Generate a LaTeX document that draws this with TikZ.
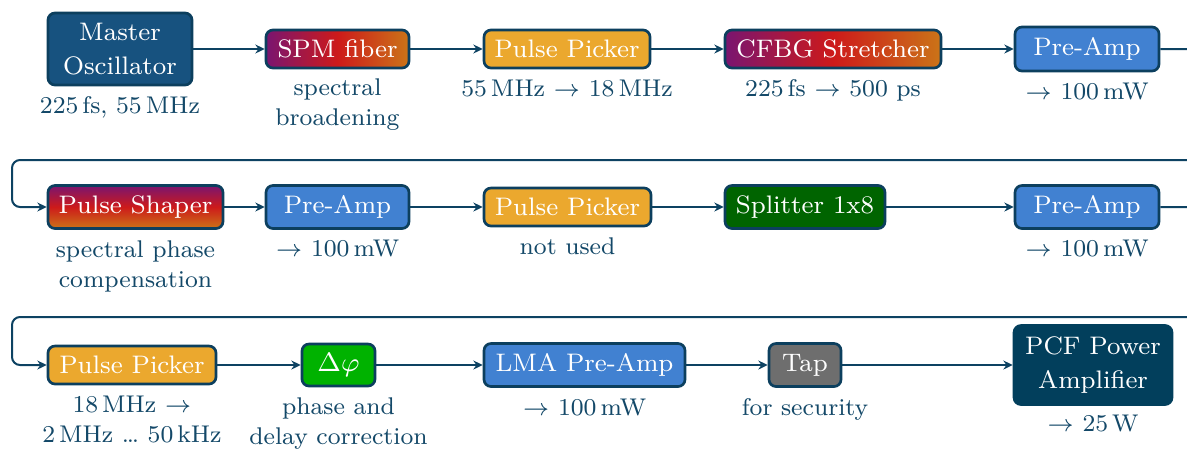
\documentclass[tikz,border=0pt]{standalone}
\usepackage{fontspec}
\usetikzlibrary{arrows.meta}
\newfontfamily\lblfam{lmroman8-regular.otf}
\definecolor{lncol}{HTML}{0D4262}
\definecolor{lblcol}{HTML}{134868}
\definecolor{bordcol}{HTML}{0C3F5E}
\definecolor{mocol}{HTML}{17527F}
\definecolor{ampcol}{HTML}{4181D1}
\definecolor{ppcol}{HTML}{EBA82E}
\definecolor{splcol}{HTML}{006400}
\definecolor{phicol}{HTML}{00B200}
\definecolor{tapcol}{HTML}{6E6E6E}
\definecolor{pcfcol}{HTML}{023F5C}
\definecolor{gpurple}{HTML}{7A1570}
\definecolor{gred}{HTML}{CD1A1A}
\definecolor{gorange}{HTML}{CB7418}
\newcommand\diagfont{\fontsize{7.6}{10.2}\selectfont}
\newcommand\lblfont{\lblfam\fontsize{7.25}{9}\selectfont}
\tikzset{
  box/.style={draw=bordcol, line width=0.8pt, rounded corners=2.1pt, text=white,
    inner sep=0pt, align=center, font=\diagfont},
  hgrad/.style={left color=gpurple, right color=gorange, middle color=gred},
  vgrad/.style={top color=gpurple, bottom color=gorange, middle color=gred},
  lbl/.style={text=lblcol, align=center, inner sep=0pt, font=\lblfont},
  conn/.style={draw=lncol, line width=0.6pt, -{Stealth[length=2.8pt,width=2.7pt]}},
  ret/.style={conn, rounded corners=2.4pt},
}
\begin{document}
\begin{tikzpicture}[x=0.3pt,y=-0.3pt]
\useasboundingbox (0,0) rectangle (1187,448);
\clip (0,0) rectangle (1187,448);
% row 1
\node[box, fill=mocol, minimum width=43.2pt, minimum height=21.6pt] (mo) at (120,49) {Master\\Oscillator};
\node[box, hgrad, minimum width=42.9pt, minimum height=11.4pt] (spm) at (337.5,49) {SPM fiber};
\node[box, fill=ppcol, minimum width=49.8pt, minimum height=11.4pt] (pp1) at (567,49) {Pulse Picker};
\node[box, hgrad, minimum width=64.8pt, minimum height=11.4pt] (cfbg) at (833,49) {CFBG Stretcher};
\node[box, fill=ampcol, minimum width=43.2pt, minimum height=13.2pt] (pa1) at (1087,49) {Pre-Amp};
% row 2
\node[box, vgrad, minimum width=52.5pt, minimum height=12.9pt] (ps) at (135.5,207) {Pulse Shaper};
\node[box, fill=ampcol, minimum width=42.9pt, minimum height=12.9pt] (pa2) at (337.5,207) {Pre-Amp};
\node[box, fill=ppcol, minimum width=50.1pt, minimum height=11.4pt] (pp2) at (567.5,207) {Pulse Picker};
\node[box, fill=splcol, minimum width=48pt, minimum height=12.9pt] (split) at (805,207) {Splitter 1x8};
\node[box, fill=ampcol, minimum width=43.2pt, minimum height=12.9pt] (pa3) at (1087,207) {Pre-Amp};
% row 3
\node[box, fill=ppcol, minimum width=50.4pt, minimum height=11.4pt] (pp3) at (132,365) {Pulse Picker};
\node[box, fill=phicol, minimum width=21.9pt, minimum height=12.6pt] (dphi) at (338.5,365) {$\Delta\varphi$};
\node[box, fill=ampcol, minimum width=60.3pt, minimum height=12.9pt] (lma) at (584.5,365) {LMA Pre-Amp};
\node[box, fill=tapcol, minimum width=21.6pt, minimum height=12.9pt] (tap) at (805,365) {Tap};
\node[box, draw=pcfcol, fill=pcfcol, minimum width=47.4pt, minimum height=23.7pt] (pcf) at (1093,365) {PCF Power\\Amplifier};
% labels
\node[lbl, anchor=base] (l1) at (mo.south |- 0,113) {225\,fs, 55\,MHz};
\node[lbl, anchor=north] (l2) at (spm.south |- 0,78.4) {spectral\\broadening};
\node[lbl, anchor=base] (l3) at (pp1.south |- 0,96.7) {55\,MHz $\rightarrow$ 18\,MHz};
\node[lbl, anchor=base] (l4) at (cfbg.south |- 0,96.7) {225\,fs $\rightarrow$ 500 ps};
\node[lbl, anchor=base] (l5) at (pa1.south |- 0,99.3) {$\rightarrow$ 100\,mW};
\node[lbl, anchor=north] (l6) at (ps.south |- 0,239.7) {spectral phase\\compensation};
\node[lbl, anchor=base] (l7) at (pa2.south |- 0,256.7) {$\rightarrow$ 100\,mW};
\node[lbl, anchor=base] (l8) at (pp2.south |- 0,254.3) {not used};
\node[lbl, anchor=base] (l9) at (pa3.south |- 0,256.7) {$\rightarrow$ 100\,mW};
\node[lbl, anchor=north] (l10) at (pp3.south |- 0,395.4) {18\,MHz $\rightarrow$\\2\,MHz \dots\ 50\,kHz};
\node[lbl, anchor=north] (l11) at (dphi.south |- 0,397.4) {phase and\\delay correction};
\node[lbl, anchor=base] (l12) at (lma.south |- 0,415) {$\rightarrow$ 100\,mW};
\node[lbl, anchor=base] (l13) at (tap.south |- 0,415) {for security};
\node[lbl, anchor=base] (l14) at (pcf.south |- 0,431.7) {$\rightarrow$ 25\,W};
% connectors
\draw[conn] (mo.east |- spm.west) -- (spm.west);
\draw[conn] (spm.east) -- (pp1.west);
\draw[conn] (pp1.east) -- (cfbg.west);
\draw[conn] (cfbg.east) -- (pa1.west);
\coordinate (t1a) at (1215,160);
\coordinate (t1b) at (12,160);
\draw[ret] (pa1.east) -| (t1a) -- (t1b) |- (ps.west);
\draw[conn] (ps.east) -- (pa2.west);
\draw[conn] (pa2.east) -- (pp2.west);
\draw[conn] (pp2.east) -- (split.west);
\draw[conn] (split.east) -- (pa3.west);
\coordinate (t2a) at (1215,317);
\coordinate (t2b) at (12,317);
\draw[ret] (pa3.east) -| (t2a) -- (t2b) |- (pp3.west);
\draw[conn] (pp3.east) -- (dphi.west);
\draw[conn] (dphi.east) -- (lma.west);
\draw[conn] (lma.east) -- (tap.west);
\draw[conn] (tap.east) -- (pcf.west);
\end{tikzpicture}
\end{document}
